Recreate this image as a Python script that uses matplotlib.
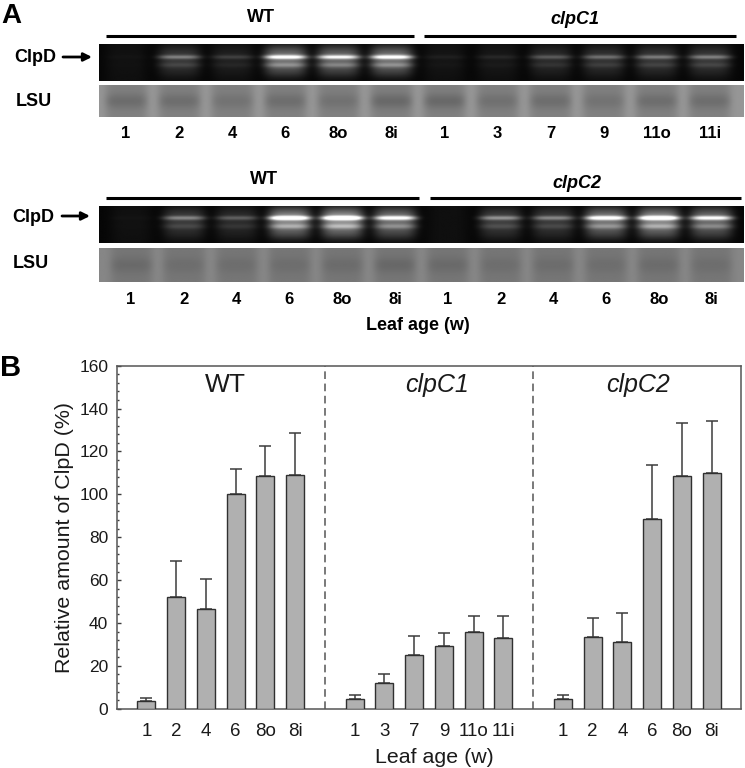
import numpy as np
import matplotlib
matplotlib.use("Agg")
import matplotlib.pyplot as plt
from matplotlib.ticker import MultipleLocator

plt.rcParams['font.family'] = ['Liberation Sans', 'DejaVu Sans']

W, H = 745, 768

# ---- panel B data ----
age_wt = ['1', '2', '4', '6', '8o', '8i']
age_c1 = ['1', '3', '7', '9', '11o', '11i']
age_c2 = ['1', '2', '4', '6', '8o', '8i']
val_wt = [3.5, 52, 46.5, 100, 108.5, 109]
val_c1 = [4.3, 11.8, 24.9, 29.4, 35.8, 32.8]
val_c2 = [4.7, 33.3, 31.2, 88.6, 108.5, 109.8]
top_wt = [5, 69, 60.5, 112, 122.5, 128.7]
top_c1 = [6.5, 16, 33.9, 35.4, 43.4, 43.4]
top_c2 = [6.5, 42.3, 44.5, 113.8, 133.2, 134.3]

# ---- panel A data (relative band strength per lane) ----
lanes_top = ['1', '2', '4', '6', '8o', '8i', '1', '3', '7', '9', '11o', '11i']
lanes_bot = ['1', '2', '4', '6', '8o', '8i', '1', '2', '4', '6', '8o', '8i']
band_top = [0.02, 0.42, 0.18, 1.0, 0.9, 1.0, 0.06, 0.09, 0.28, 0.36, 0.40, 0.42]
band_bot = [0.02, 0.45, 0.30, 1.25, 1.35, 1.0, 0.0, 0.50, 0.45, 1.05, 1.25, 0.95]
lsu_top = [0.75, 0.7, 0.5, 0.7, 0.55, 0.9, 0.9, 0.6, 0.7, 0.5, 0.7, 0.7]
lsu_bot = [0.6, 0.4, 0.4, 0.4, 0.5, 0.7, 0.6, 0.4, 0.45, 0.4, 0.5, 0.4]


def px_axes(fig, x0, y0, x1, y1, **kw):
    return fig.add_axes([x0 / W, 1 - y1 / H, (x1 - x0) / W, (y1 - y0) / H], **kw)


def mesh(lim):
    x = np.linspace(lim[0], lim[1], 660)
    y = np.linspace(0, 1, 60)
    return np.meshgrid(x, y)


def band_image(values, band_y, second_y, lim):
    X, Y = mesh(lim)
    img = np.full(X.shape, 0.025)
    for i, v in enumerate(values):
        lane = np.exp(-((X - i) / 0.40) ** 4)
        sharp = np.exp(-((Y - band_y) / 0.055) ** 2)
        glow = np.exp(-((Y - band_y) / 0.2) ** 2)
        second = np.exp(-((Y - second_y) / 0.07) ** 2)
        smear = np.exp(-((Y - 0.45) / 0.42) ** 4)
        img += lane * (0.035 + v * (0.68 * sharp + 0.14 * glow + 0.22 * second + 0.26 * smear))
    return np.clip(img, 0, 1)


def lsu_image(values, gap, lane_level, depth, lim):
    X, Y = mesh(lim)
    img = np.full(X.shape, gap, dtype=float)
    for i, v in enumerate(values):
        lane = np.exp(-((X - i) / 0.40) ** 6)
        img -= lane * (gap - lane_level)
        img -= lane * depth * v * np.exp(-((Y - 0.5) / 0.24) ** 2)
    return img


def draw_gel(fig, y0, y1, y2, y3, band, lsu, names, x0lane, spacing, band_y, second_y,
             gap, lane_level, depth, label_y):
    xa, xb = 99, 744
    lim = ((xa - x0lane) / spacing, (xb - x0lane) / spacing)
    a1 = px_axes(fig, xa, y0, xb, y1)
    a1.imshow(band_image(band, band_y, second_y, lim), cmap='gray', vmin=0, vmax=1, aspect='auto',
              extent=[lim[0], lim[1], 1, 0], interpolation='bilinear')
    a1.axis('off')
    a2 = px_axes(fig, xa, y2, xb, y3)
    a2.imshow(lsu_image(lsu, gap, lane_level, depth, lim), cmap='gray', vmin=0, vmax=255,
              aspect='auto', extent=[lim[0], lim[1], 1, 0], interpolation='bilinear')
    a2.set_xlim(lim)
    a2.set_yticks([])
    a2.set_xticks(range(len(names)))
    a2.set_xticklabels(names, fontweight='bold', fontsize=12)
    a2.tick_params(axis='x', length=0, pad=label_y - y3 - 6.5)
    for s in a2.spines.values():
        s.set_visible(False)


fig = plt.figure(figsize=(W / 100, H / 100), dpi=100, facecolor='white')

draw_gel(fig, 44, 81, 85, 117, band_top, lsu_top, lanes_top, 126, 53.1, 0.35, 0.57,
         150, 128, 26, 130)
draw_gel(fig, 206, 243, 248, 282, band_bot, lsu_bot, lanes_bot, 131, 52.8, 0.32, 0.55,
         134, 118, 20, 296)

# full-figure overlay in pixel coordinates for annotations of panel A
ov = fig.add_axes([0, 0, 1, 1], facecolor='none')
ov.set_xlim(0, W)
ov.set_ylim(H, 0)
ov.axis('off')
bold = dict(fontweight='bold', ha='center', va='center')
for x0, x1, y in [(106, 414, 35.7), (424, 736, 35.7), (106, 419, 198), (430, 741, 198)]:
    ov.plot([x0, x1], [y, y], color='black', lw=2.2, solid_capstyle='butt')
ov.text(261, 17, 'WT', fontsize=13, **bold)
ov.text(575, 20, 'clpC1', fontsize=13, style='italic', **bold)
ov.text(264, 179, 'WT', fontsize=13, **bold)
ov.text(577, 183, 'clpC2', fontsize=13, style='italic', **bold)
ov.text(35, 57, 'ClpD', fontsize=13, **bold)
ov.text(34, 102, 'LSU', fontsize=13, **bold)
ov.text(33, 217, 'ClpD', fontsize=13, **bold)
ov.text(31, 264, 'LSU', fontsize=13, **bold)
ov.text(418, 326, 'Leaf age (w)', fontsize=13, **bold)
ov.text(11, 16, 'A', fontsize=20, **bold)
ov.text(11, 368, 'B', fontsize=21, **bold)
for x0, x1, yy in [(63, 92, 57), (62, 90, 216)]:
    ov.annotate('', xy=(x1, yy), xytext=(x0, yy),
                arrowprops=dict(arrowstyle='-|>', color='black', lw=2, mutation_scale=12,
                                shrinkA=0, shrinkB=0))

# ---- panel B chart ----
ax = px_axes(fig, 116.6, 365.7, 741.4, 708.7)
pos_wt = np.arange(1, 7)
pos_c1 = np.arange(8, 14)
pos_c2 = np.arange(15, 21)
line = '#3c3c3c'
for pos, val, top in [(pos_wt, val_wt, top_wt), (pos_c1, val_c1, top_c1), (pos_c2, val_c2, top_c2)]:
    val = np.array(val)
    err = np.array(top) - val
    ax.bar(pos, val, width=0.61, color='#b0b0b0', edgecolor='#303030', linewidth=1.0, zorder=3)
    ax.errorbar(pos, val, yerr=[np.zeros_like(err), err], fmt='none', ecolor=line,
                elinewidth=1.1, capsize=4.5, capthick=1.1, zorder=2)
for d in (7, 14):
    ax.axvline(d, color='#555555', lw=1.1, dashes=(5, 3), zorder=1)
ax.set_xlim(0, 21)
ax.set_ylim(0, 160)
ax.set_xticks(list(pos_wt) + list(pos_c1) + list(pos_c2))
ax.set_xticklabels(age_wt + age_c1 + age_c2, fontsize=13.5, color='#1a1a1a')
ax.tick_params(axis='x', length=0, pad=10)
ax.yaxis.set_major_locator(MultipleLocator(20))
ax.yaxis.set_minor_locator(MultipleLocator(4))
ax.tick_params(axis='y', which='major', direction='in', length=3.2, width=1, color=line,
               labelsize=12.5, labelcolor='#1a1a1a', pad=6)
ax.tick_params(axis='y', which='minor', direction='in', length=1.5, width=1, color=line)
for s in ax.spines.values():
    s.set_color('#555555')
    s.set_linewidth(1.1)
ax.set_ylabel('Relative amount of ClpD (%)', fontsize=15.4, color='#1a1a1a', labelpad=4)
ax.set_xlabel('Leaf age (w)', fontsize=15.4, color='#1a1a1a')
ax.xaxis.set_label_coords(0.508, -0.116)
ax.text(3.64, 151, 'WT', fontsize=19, ha='center', va='center', color='#1a1a1a')
ax.text(10.76, 151, 'clpC1', fontsize=18, style='italic', ha='center', va='center', color='#1a1a1a')
ax.text(17.53, 151, 'clpC2', fontsize=18, style='italic', ha='center', va='center', color='#1a1a1a')

fig.savefig('out.png', dpi=100, facecolor='white')
